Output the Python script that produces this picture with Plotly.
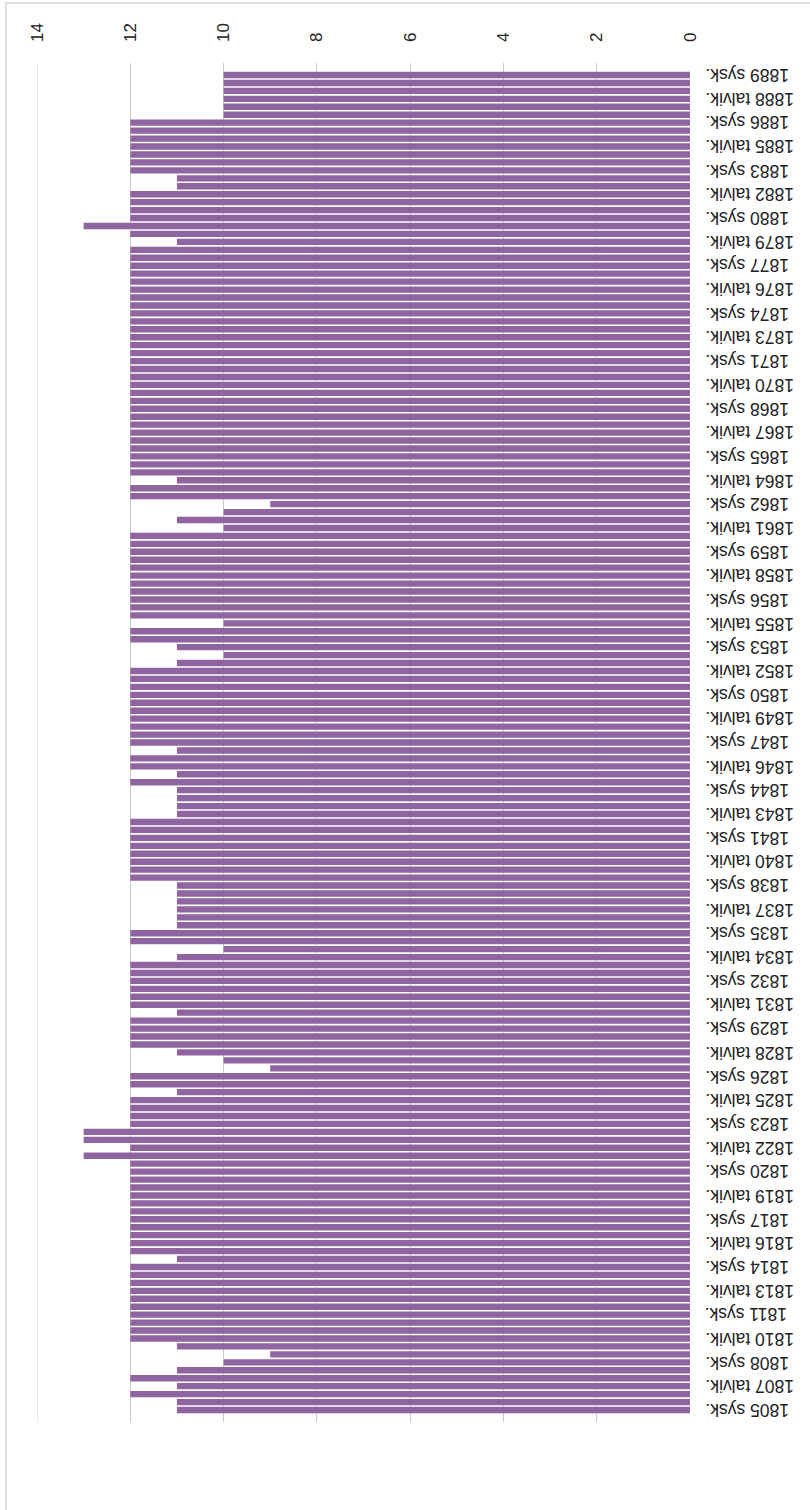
import plotly.graph_objects as go

# Years
years_sysk = list(range(1805, 1890))      # autumn terms 1805..1889
years_talvik = list(range(1806, 1890))    # spring terms 1806..1889

# Values per term
sysk_values = [
    11, 12, 12, 10, 11, 12, 12, 12, 12, 12,   # 1805-1814
    12, 12, 12, 12, 12, 12, 13, 13, 12, 12,   # 1815-1824
    11, 12, 10, 12, 12, 11, 12, 12, 12, 10,   # 1825-1834
    12, 11, 11, 11, 12, 12, 12, 12, 11, 11,   # 1835-1844
    11, 12, 12, 12, 12, 12, 12, 11, 11, 12,   # 1845-1854
    12, 12, 12, 12, 12, 12, 11, 9, 12, 12,    # 1855-1864
    12, 12, 12, 12, 12, 12, 12, 12, 12, 12,   # 1865-1874
    12, 12, 12, 12, 12, 12, 12, 11, 12, 12,   # 1875-1884
    12, 12, 10, 10, 10,                       # 1885-1889
]
talvik_values = [
    11, 11, 11, 9, 12, 12, 12, 12, 12,        # 1806-1814
    11, 12, 12, 12, 12, 12, 12, 12, 13, 12,   # 1815-1824
    12, 12, 9, 11, 12, 12, 12, 12, 12, 11,    # 1825-1834
    12, 11, 11, 11, 12, 12, 12, 12, 11, 11,   # 1835-1844
    12, 12, 11, 12, 12, 12, 12, 12, 10, 12,   # 1845-1854
    10, 12, 12, 12, 12, 12, 10, 10, 12, 11,   # 1855-1864
    12, 12, 12, 12, 12, 12, 12, 12, 12, 12,   # 1865-1874
    12, 12, 12, 12, 11, 13, 12, 12, 11, 12,   # 1875-1884
    12, 12, 10, 10, 10,                       # 1885-1889
]

# Build the category sequence: 1805 sysk., 1806 talvik., 1806 sysk., ...
categories = [f"{years_sysk[0]} sysk."]
values = [sysk_values[0]]
for i, yr in enumerate(years_talvik):
    categories.append(f"{yr} talvik.")
    values.append(talvik_values[i])
    categories.append(f"{yr} sysk.")
    values.append(sysk_values[i + 1])

tick_labels = categories[::3]
x_ticks = [0, 2, 4, 6, 8, 10, 12, 14]

W, H = 810, 1510
ML, MR, MT, MB = 37, 120, 63, 88
PW, PH = W - ML - MR, H - MT - MB

fig = go.Figure(
    go.Bar(
        x=values,
        y=categories,
        orientation="h",
        marker=dict(color="#9063a1", line=dict(width=0)),
        hoverinfo="x+y",
    )
)

# Upside-down category labels, their end aligned next to the plot edge
label_x = (703 - ML) / PW
for lab in tick_labels:
    fig.add_annotation(
        x=label_x, xref="paper",
        y=lab, yref="y",
        text=lab,
        textangle=180,
        xanchor="left",
        yanchor="middle",
        showarrow=False,
        font=dict(family="Liberation Sans, Arial, sans-serif", size=17.5, color="#222222"),
    )

fig.update_layout(
    width=W,
    height=H,
    margin=dict(l=ML, r=MR, t=MT, b=MB, autoexpand=False),
    paper_bgcolor="white",
    plot_bgcolor="white",
    bargap=0.2,
    showlegend=False,
    font=dict(family="Liberation Sans, Arial, sans-serif", size=17, color="#222222"),
    xaxis=dict(
        range=[14, 0],
        side="top",
        tickvals=x_ticks,
        ticktext=[str(v) for v in x_ticks],
        tickangle=-90,
        showgrid=True,
        gridcolor="#cccccc",
        gridwidth=1,
        zeroline=False,
        showline=False,
        ticks="",
        automargin=False,
        ticklabelstandoff=20,
        tickfont=dict(size=17),
    ),
    yaxis=dict(
        type="category",
        categoryorder="array",
        categoryarray=categories,
        showticklabels=False,
        showgrid=False,
        zeroline=False,
        showline=False,
        ticks="",
        automargin=False,
    ),
    shapes=[
        dict(
            type="rect", xref="paper", yref="paper",
            x0=(6 - ML) / PW, x1=(830 - ML) / PW,
            y0=(H - MB - 1530) / PH, y1=(H - MB - 3) / PH,
            line=dict(color="#d4d4d4", width=1.5),
            fillcolor="rgba(0,0,0,0)",
            layer="below",
        ),
        dict(
            type="line", xref="x", yref="paper",
            x0=x_ticks[-1], x1=x_ticks[-1], y0=0, y1=1,
            line=dict(color="#cccccc", width=1),
            layer="below",
        ),
    ],
)

fig.write_html(
    "out.html",
    config={"displayModeBar": False},
    post_script="document.body.style.margin='0';document.body.style.overflow='hidden';",
)
